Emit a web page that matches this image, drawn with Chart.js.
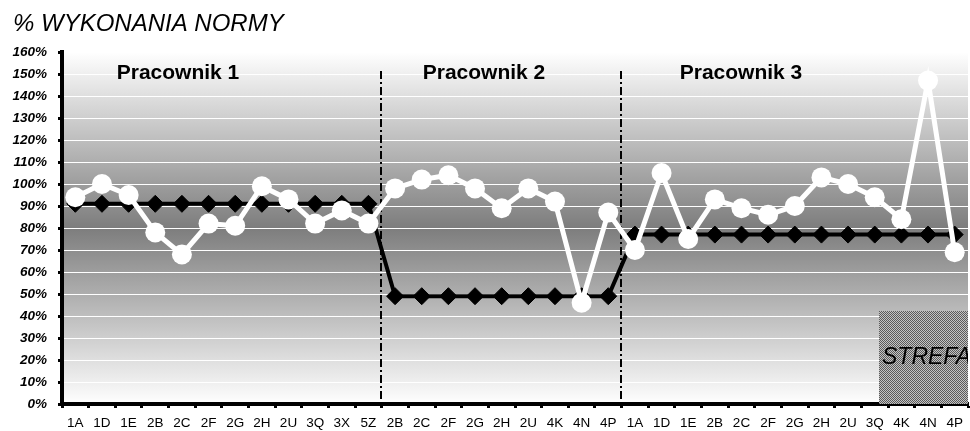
<!DOCTYPE html>
<html>
<head>
<meta charset="utf-8">
<script src="https://cdn.jsdelivr.net/npm/chart.js@4.4.0/dist/chart.umd.min.js"></script>
<style>
  body { margin: 0; background: #fff; }
</style>
</head>
<body>
<canvas id="mycanvas" width="970" height="431"></canvas>
<script>
// categories (three workers, one after the other)
var categories = ['1A','1D','1E','2B','2C','2F','2G','2H','2U','3Q','3X','5Z',
                  '2B','2C','2F','2G','2H','2U','4K','4N','4P',
                  '1A','1D','1E','2B','2C','2F','2G','2H','2U','3Q','4K','4N','4P'];

// norma (black diamonds)
var norma = [91,91,91,91,91,91,91,91,91,91,91,91,
             49,49,49,49,49,49,49,49,49,
             77,77,77,77,77,77,77,77,77,77,77,77,77];

// wykonanie (white circles)
var wykonanie = [94,100,95,78,68,82,81,99,93,82,88,82,
                 98,102,104,98,89,98,92,46,87,
                 70,105,75,93,89,86,90,103,100,94,84,147,69];

var groupNames = ['Pracownik 1','Pracownik 2','Pracownik 3'];
var groupStarts = [12, 21];

var font = '"Liberation Sans", Arial, sans-serif';

var decor = {
  id: 'decor',
  beforeDraw: function(chart) {
    var ctx = chart.ctx, a = chart.chartArea;
    ctx.save();
    ctx.fillStyle = '#fff';
    ctx.fillRect(0, 0, chart.width, chart.height);
    var g = ctx.createLinearGradient(0, a.top, 0, a.bottom);
    g.addColorStop(0, '#ffffff');
    g.addColorStop(0.5, '#7d7d7d');
    g.addColorStop(1, '#ffffff');
    ctx.fillStyle = g;
    ctx.fillRect(a.left, a.top, a.right - a.left, a.bottom - a.top);
    ctx.fillStyle = '#000';
    ctx.font = 'italic 24px ' + font;
    ctx.textBaseline = 'middle';
    ctx.fillText('% WYKONANIA NORMY', 13, 24);
    ctx.restore();
  },
  beforeDatasetsDraw: function(chart) {
    var ctx = chart.ctx, a = chart.chartArea, xs = chart.scales.x;
    ctx.save();

    // STREFA box
    var p = document.createElement('canvas');
    p.width = 2; p.height = 2;
    var pc = p.getContext('2d');
    pc.fillStyle = '#c4c4c4'; pc.fillRect(0, 0, 2, 2);
    pc.fillStyle = '#5a5a5a'; pc.fillRect(0, 0, 1, 1); pc.fillRect(1, 1, 1, 1);
    var bx = 879, by = 311;
    ctx.fillStyle = ctx.createPattern(p, 'repeat');
    ctx.fillRect(bx, by, a.right - bx, a.bottom - by);
    ctx.beginPath();
    ctx.rect(bx, by, a.right - bx, a.bottom - by);
    ctx.clip();
    ctx.fillStyle = '#000';
    ctx.font = 'italic 23px ' + font;
    ctx.textBaseline = 'middle';
    ctx.fillText('STREFA', 882, 358);
    ctx.restore();

    // dash-dot separators
    ctx.save();
    ctx.strokeStyle = '#000';
    ctx.lineWidth = 2;
    ctx.setLineDash([8, 3, 2, 3]);
    groupStarts.forEach(function(i) {
      var x = Math.round((xs.getPixelForValue(i - 1) + xs.getPixelForValue(i)) / 2) - 1;
      ctx.beginPath();
      ctx.moveTo(x, a.top + 19);
      ctx.lineTo(x, a.bottom);
      ctx.stroke();
    });
    ctx.restore();

    // group labels
    ctx.save();
    ctx.fillStyle = '#000';
    ctx.font = 'bold 21px ' + font;
    ctx.textAlign = 'center';
    ctx.textBaseline = 'middle';
    var lx = [178, 484, 741];
    groupNames.forEach(function(n, i) { ctx.fillText(n, lx[i], 73); });
    ctx.restore();
  }
};

new Chart(document.getElementById('mycanvas'), {
  type: 'line',
  data: {
    labels: categories,
    datasets: [
      {
        label: 'Wykonanie',
        data: wykonanie,
        order: 0,
        borderColor: '#fff',
        borderWidth: 5,
        pointStyle: 'circle',
        pointRadius: 10,
        pointBackgroundColor: '#fff',
        pointBorderColor: '#fff',
        pointBorderWidth: 0,
        tension: 0,
        clip: 12
      },
      {
        label: 'Norma',
        data: norma,
        order: 1,
        borderColor: '#000',
        borderWidth: 4,
        pointStyle: 'rectRot',
        pointRadius: 8.5,
        pointBackgroundColor: '#000',
        pointBorderColor: '#000',
        pointBorderWidth: 1,
        tension: 0,
        clip: 12
      }
    ]
  },
  options: {
    responsive: false,
    animation: false,
    layout: { autoPadding: false, padding: { top: 52, right: 2, left: 0, bottom: 0 } },
    plugins: { legend: { display: false }, tooltip: { enabled: false } },
    scales: {
      x: {
        offset: true,
        grid: { offset: true, drawOnChartArea: false, tickColor: '#000', tickLength: 4, tickWidth: 3 },
        border: { color: '#000', width: 4 },
        ticks: { color: '#000', font: { family: font, size: 13.5 }, maxRotation: 0, autoSkip: false, padding: 7 },
        afterFit: function(s) { s.height = 27; s.paddingLeft = 0; s.paddingRight = 0; }
      },
      y: {
        min: 0,
        max: 160,
        ticks: {
          stepSize: 10,
          color: '#000',
          padding: 11,
          font: { family: font, size: 13.5, weight: 'bold', style: 'italic' },
          callback: function(v) { return v + '%'; }
        },
        grid: { color: '#fff', lineWidth: 1, tickColor: '#000', tickLength: 4, tickWidth: 3 },
        border: { color: '#000', width: 4 },
        afterFit: function(s) { s.width = 62; }
      }
    }
  },
  plugins: [decor]
});
</script>
</body>
</html>
